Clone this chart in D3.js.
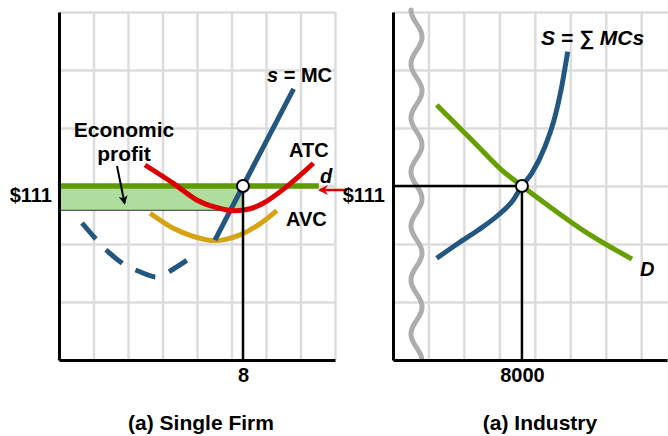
<!DOCTYPE html>
<html>
<head>
<meta charset="utf-8">
<script src="https://cdn.jsdelivr.net/npm/d3@7"></script>
<style>
  html, body { margin: 0; padding: 0; background: #fff; }
  svg { display: block; }
  text { font-family: "Liberation Sans", Arial, sans-serif; font-weight: bold; }
</style>
</head>
<body>
<svg id="chart" width="668" height="436"></svg>
<script>
// ---------- DATA ----------
const priceEq = 111;
const priceLabel = "$111";
const firmQEq = 8;
const industryQEq = 8000;
const profitBottom = 95.5;            // ATC at q = 8

// Single firm curves (quantity, price)
const atcQ = [3.74, 4.97, 5.99, 6.8, 7.6, 8.3, 8.88, 9.9, 11.06];
const atcP = [124.4, 112.7, 102.1, 97.5, 95.2, 96.5, 100, 110.6, 125.5];
const avcQ = [3.96, 4.97, 5.8, 6.6, 7.2, 7.87, 8.7, 9.47];
const avcP = [93.6, 84.0, 79, 76.3, 76.8, 79.8, 86.5, 95.3];
const mcQ = [6.78, 8, 10.2];
const mcP = [76.5, 111, 173];
const mcDashQ = [1.0, 1.64, 2.14, 2.87, 3.52, 4.3, 5.04, 5.84];
const mcDashP = [87.4, 76.6, 69, 60.6, 56.3, 53, 58.7, 66.4];

// Industry curves (quantity, price)
const supplyQ = [2711, 4051, 5292, 6533, 7463, 8000, 8605, 9430, 10051, 10467, 10839];
const supplyP = [64.9, 74.5, 82.9, 92.5, 102.1, 111, 119.1, 136.1, 155.2, 174.4, 196.7];
const demandQ = [2711, 5087, 6744, 8000, 9430, 11912, 14828];
const demandP = [162.7, 138.3, 121.2, 111, 100, 81.9, 64.4];

const firmTicks = [8];
const industryTicks = [8000];
const priceTicks = [111];
const titles = ["(a) Single Firm", "(a) Industry"];
const curveLabels = { atc: "ATC", avc: "AVC", d: "d", D: "D", S: "S = \u2211 MCs" };

// ---------- SETUP ----------
const svg = d3.select("#chart");
const FONT = "'Liberation Sans', Arial, sans-serif";
const FS = 20;
const fx = d3.scaleLinear().domain([0, 12]).range([59, 335]);
const py = d3.scaleLinear().domain([0, 222]).range([360, 12]);
const ix = d3.scaleLinear().domain([0, 17000]).range([393, 667]);

const C = {
  grid: "#dcdcdc", blue: "#23577f", red: "#dd0000", gold: "#d6a312",
  green: "#5e9a00", dgreen: "#66a000", fill: "#afdd9d", squig: "#adadad"
};

const defs = svg.append("defs");
function marker(id, color, size) {
  defs.append("marker").attr("id", id)
    .attr("viewBox", "0 0 10 10").attr("refX", 8).attr("refY", 5)
    .attr("markerWidth", size).attr("markerHeight", size)
    .attr("markerUnits", "userSpaceOnUse")
    .attr("orient", "auto")
    .append("path").attr("d", "M0,0 L10,5 L0,10 L3,5 Z").attr("fill", color);
}
marker("arrBlack", "#000", 9);
marker("arrRed", C.red, 10);

// ---------- GRID ----------
function grid(xs, x0, x1, step) {
  const g = svg.append("g");
  g.append("g").attr("transform", `translate(0,${py(0)})`)
    .call(d3.axisBottom(xs).tickValues(d3.range(xs.domain()[0], xs.domain()[1] + 1e-6, step))
      .tickSize(-(py(0) - py(222))).tickFormat(""))
    .call(s => s.select(".domain").remove())
    .call(s => s.selectAll("line").attr("stroke", C.grid).attr("stroke-width", 2.5));
  g.append("g").attr("transform", `translate(${x0},0)`)
    .call(d3.axisLeft(py).tickValues(d3.range(37, 223, 37)).tickSize(-(x1 - x0)).tickFormat(""))
    .call(s => s.select(".domain").remove())
    .call(s => s.selectAll("line").attr("stroke", C.grid).attr("stroke-width", 2.5));
}
grid(fx, fx(0), 335, 1.5);
grid(ix, ix(0), 668, 2200);

// ---------- SINGLE FIRM ----------
const lineF = d3.line().x(d => fx(d[0])).y(d => py(d[1])).curve(d3.curveCatmullRom);
const zip = (a, b) => a.map((v, i) => [v, b[i]]);

// profit rectangle
svg.append("rect")
  .attr("x", fx(0)).attr("y", py(priceEq))
  .attr("width", fx(firmQEq) - fx(0)).attr("height", py(profitBottom) - py(priceEq))
  .attr("fill", C.fill);
svg.append("line")
  .attr("x1", fx(0)).attr("x2", fx(firmQEq))
  .attr("y1", py(profitBottom)).attr("y2", py(profitBottom))
  .attr("stroke", "#333").attr("stroke-width", 1);

// d line (price)
svg.append("line")
  .attr("x1", fx(0)).attr("x2", fx(11.3))
  .attr("y1", py(priceEq)).attr("y2", py(priceEq))
  .attr("stroke", C.green).attr("stroke-width", 5.5);

// AVC
svg.append("path").attr("d", lineF(zip(avcQ, avcP)))
  .attr("fill", "none").attr("stroke", C.gold).attr("stroke-width", 5);

// MC dashed + solid
svg.append("path").attr("d", lineF(zip(mcDashQ, mcDashP)))
  .attr("fill", "none").attr("stroke", C.blue).attr("stroke-width", 5)
  .attr("stroke-dasharray", "21 15");
svg.append("path").attr("d", d3.line().x(d => fx(d[0])).y(d => py(d[1]))(zip(mcQ, mcP)))
  .attr("fill", "none").attr("stroke", C.blue).attr("stroke-width", 5);

// ATC
svg.append("path").attr("d", lineF(zip(atcQ, atcP)))
  .attr("fill", "none").attr("stroke", C.red).attr("stroke-width", 5);

// drop line
svg.append("line")
  .attr("x1", fx(firmQEq)).attr("x2", fx(firmQEq))
  .attr("y1", py(priceEq)).attr("y2", py(0))
  .attr("stroke", "#000").attr("stroke-width", 2.5);

// axes
function styleAxis(s, size) {
  s.attr("font-family", FONT).attr("font-size", size).attr("font-weight", "bold");
  s.select(".domain").attr("stroke", "#000").attr("stroke-width", 3);
  s.selectAll("text").attr("fill", "#000");
}
svg.append("g").attr("transform", `translate(0,${py(0)})`)
  .call(d3.axisBottom(fx).tickValues(firmTicks).tickSize(0).tickSizeOuter(0).tickPadding(8))
  .call(s => styleAxis(s, FS));
svg.append("g").attr("transform", `translate(${fx(0)},0)`)
  .call(d3.axisLeft(py).tickValues(priceTicks).tickFormat(() => priceLabel).tickSize(0).tickSizeOuter(0).tickPadding(7))
  .call(s => styleAxis(s, FS))
  .call(s => s.selectAll("text").attr("dy", "0.78em"));

// equilibrium circle
svg.append("circle").attr("cx", fx(firmQEq)).attr("cy", py(priceEq)).attr("r", 6)
  .attr("fill", "#fff").attr("stroke", "#000").attr("stroke-width", 2);

// red arrow from industry price to firm
svg.append("line")
  .attr("x1", 347).attr("x2", fx(11.3) + 1)
  .attr("y1", py(priceEq) + 4).attr("y2", py(priceEq) + 4)
  .attr("stroke", C.red).attr("stroke-width", 2.5)
  .attr("marker-end", "url(#arrRed)");

// economic profit label + arrow
svg.append("text").attr("x", 124).attr("y", 137).attr("text-anchor", "middle")
  .attr("font-size", FS + 1).text("Economic");
svg.append("text").attr("x", 124).attr("y", 161).attr("text-anchor", "middle")
  .attr("font-size", FS + 1).text("profit");
svg.append("line").attr("x1", 117).attr("y1", 166).attr("x2", 124.5).attr("y2", 203)
  .attr("stroke", "#000").attr("stroke-width", 2).attr("marker-end", "url(#arrBlack)");

// curve labels
const mcT = svg.append("text").attr("x", 267).attr("y", 82).attr("font-size", FS);
mcT.append("tspan").attr("font-style", "italic").text("s");
mcT.append("tspan").text(" = MC");
svg.append("text").attr("x", 289).attr("y", 157).attr("font-size", FS).text(curveLabels.atc);
svg.append("text").attr("x", 286).attr("y", 226).attr("font-size", FS).text(curveLabels.avc);
svg.append("text").attr("x", 320).attr("y", 183).attr("font-size", FS)
  .attr("font-style", "italic").text(curveLabels.d);

// ---------- INDUSTRY ----------
const lineI = d3.line().x(d => ix(d[0])).y(d => py(d[1])).curve(d3.curveMonotoneX);

// squiggle (axis break decoration)
const sqPts = d3.range(10, 358.5, 1.5).map(y => [416.5 + 5.5 * Math.sin((y - 10) / 54 * 2 * Math.PI - Math.PI / 2), y]);
svg.append("path").attr("d", d3.line()(sqPts))
  .attr("fill", "none").attr("stroke", C.squig).attr("stroke-width", 5).attr("stroke-linecap", "round");

// guide lines
svg.append("line")
  .attr("x1", ix(0)).attr("x2", ix(industryQEq))
  .attr("y1", py(priceEq)).attr("y2", py(priceEq))
  .attr("stroke", "#000").attr("stroke-width", 2.5);
svg.append("line")
  .attr("x1", ix(industryQEq)).attr("x2", ix(industryQEq))
  .attr("y1", py(priceEq)).attr("y2", py(0))
  .attr("stroke", "#000").attr("stroke-width", 2.5);

// demand & supply
svg.append("path").attr("d", lineI(zip(demandQ, demandP)))
  .attr("fill", "none").attr("stroke", C.dgreen).attr("stroke-width", 5);
svg.append("path").attr("d", lineI(zip(supplyQ, supplyP)))
  .attr("fill", "none").attr("stroke", C.blue).attr("stroke-width", 5);

// axes
svg.append("g").attr("transform", `translate(0,${py(0)})`)
  .call(d3.axisBottom(ix).tickValues(industryTicks).tickFormat(d3.format("d")).tickSize(0).tickSizeOuter(0).tickPadding(8))
  .call(s => styleAxis(s, FS));
svg.append("g").attr("transform", `translate(${ix(0)},0)`)
  .call(d3.axisLeft(py).tickValues(priceTicks).tickFormat(() => priceLabel).tickSize(0).tickSizeOuter(0).tickPadding(8))
  .call(s => styleAxis(s, FS))
  .call(s => s.selectAll("text").attr("dy", "0.78em"));

svg.append("circle").attr("cx", ix(industryQEq)).attr("cy", py(priceEq)).attr("r", 6)
  .attr("fill", "#fff").attr("stroke", "#000").attr("stroke-width", 2);

// labels
svg.append("text").attr("x", 541).attr("y", 45).attr("font-size", FS + 1)
  .attr("font-style", "italic").text(curveLabels.S);
svg.append("text").attr("x", 640).attr("y", 276).attr("font-size", FS)
  .attr("font-style", "italic").text(curveLabels.D);

// titles
svg.append("text").attr("x", 201).attr("y", 430).attr("text-anchor", "middle")
  .attr("font-size", 21).text(titles[0]);
svg.append("text").attr("x", 540).attr("y", 430).attr("text-anchor", "middle")
  .attr("font-size", 21).text(titles[1]);
</script>
</body>
</html>
